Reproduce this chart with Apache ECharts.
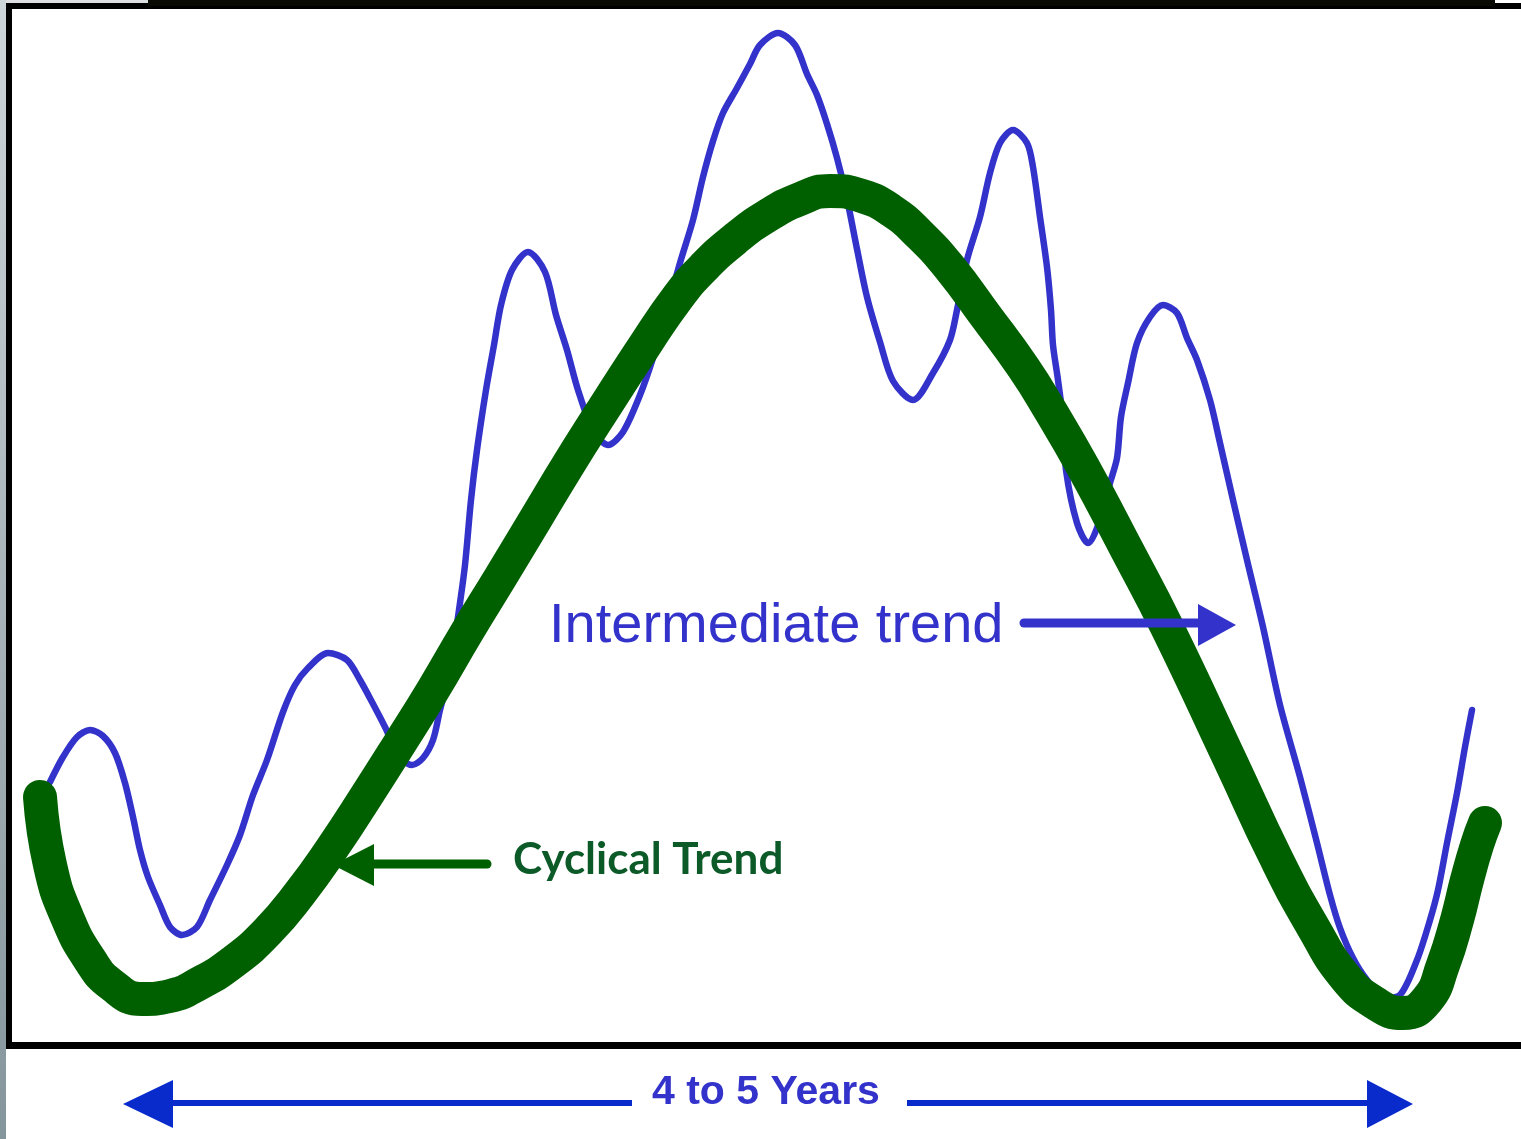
<!DOCTYPE html>
<html>
<head>
<meta charset="utf-8">
<title>Cyclical vs Intermediate trend</title>
<script src="https://cdn.jsdelivr.net/npm/echarts@6/dist/echarts.min.js"></script>
<style>
html, body { margin: 0; padding: 0; background: #fff; }
#chart { width: 1521px; height: 1139px; }
</style>
</head>
<body>
<div id="chart"></div>
<script>
// intermediate trend (blue, hand drawn) - time / level
var interTime = [41, 54, 68, 81, 94, 106, 116, 124, 131, 139, 151, 161, 173, 188, 201, 218, 231, 244, 258, 274, 286, 299, 319,
	338, 351, 363, 376, 391, 403, 414, 424, 431, 438, 444, 450, 456, 462, 468, 477, 485, 492, 503, 519,
	536, 547, 558, 569, 584, 599, 614, 631, 644, 658, 671, 684, 694, 704, 714, 728, 741, 751, 769,
	786, 798, 808, 818, 828, 838, 848, 858, 871, 884, 904, 924, 941, 948, 958, 971, 981, 991, 1004,
	1018, 1024, 1031, 1038, 1042, 1044, 1049, 1054, 1057, 1068, 1079, 1091, 1101, 1108, 1112, 1119, 1128, 1141, 1154,
	1168, 1178, 1188, 1201, 1211, 1224, 1238, 1254, 1271, 1291, 1308, 1321, 1331, 1344, 1358, 1376,
	1391, 1408, 1421, 1429, 1438, 1448, 1456, 1463];
var interLevel = [263, 288, 308, 315, 309, 292, 262, 228, 195, 168, 140, 118, 110, 118, 145, 180, 210, 250, 285, 333, 360, 377, 392,
	385, 365, 343, 318, 287, 280, 287, 305, 335, 362, 395, 435, 480, 545, 595, 655, 700, 740, 775, 793,
	773, 730, 695, 655, 615, 600, 613, 650, 687, 735, 782, 825, 868, 904, 932, 957, 981, 1000, 1012,
	1000, 971, 950, 921, 887, 846, 796, 748, 703, 664, 645, 672, 705, 735, 785, 828, 872, 902, 915,
	902, 878, 828, 778, 735, 700, 665, 625, 575, 522, 502, 525, 562, 587, 628, 662, 702, 728, 740,
	732, 707, 685, 645, 602, 545, 485, 418, 340, 268, 202, 150, 117, 87, 65, 47,
	50, 85, 125, 155, 202, 252, 298, 335];

// cyclical trend (thick green)
var cycTime = [31, 41, 58, 81, 103, 133, 161, 191, 224, 258, 291, 324, 358, 391, 424, 458, 491, 526, 561, 599, 636, 669, 694,
	726, 758, 791, 821, 853, 883, 911, 941, 976, 1014, 1041, 1074, 1118, 1158, 1221, 1268, 1304, 1336, 1366, 1394,
	1418, 1434, 1448, 1458, 1468, 1476];
var cycLevel = [248, 180, 128, 85, 60, 46, 49, 62, 83, 113, 152, 198, 250, 302, 355, 413, 467, 525, 583, 643, 700, 748, 777,
	806, 829, 846, 854, 849, 834, 810, 777, 730, 678, 635, 578, 495, 418, 285, 185, 118, 68, 42, 32,
	45, 80, 125, 165, 200, 222];

var labels = {
	inter : "Intermediate trend",
	cyc : "Cyclical Trend",
	span : "4 to 5 Years"
};

function zip(xs, ys) {
	var out = [];
	for (var i = 0; i < xs.length; i++) {
		out.push([ xs[i], ys[i] ]);
	}
	return out;
}

// no ticks, labels or grid lines - only the axis line is kept as frame
function frameAxis(opt) {
	return Object.assign({
		axisTick : { show : false },
		axisLabel : { show : false },
		splitLine : { show : false }
	}, opt);
}

var chart = echarts.init(document.getElementById("chart"));

var blue = "#3333cc", green = "#006000", arrowBlue = "#0a2bcc";

chart.setOption({
	animation : false,
	backgroundColor : "#fff",
	grid : {
		left : 9,
		right : 0,
		top : 6,
		bottom : 94
	},
	xAxis : [ frameAxis({
		type : 'value',
		min : 0,
		max : 1512,
		position : 'bottom',
		axisLine : { show : true, onZero : false, lineStyle : { color : "#000", width : 7, cap : 'square' } }
	}), frameAxis({
		type : 'value',
		min : 0,
		max : 1512,
		position : 'top',
		axisLine : { show : true, onZero : false, lineStyle : { color : "#000", width : 6, cap : 'square' } }
	}) ],
	yAxis : frameAxis({
		type : 'value',
		min : 0,
		max : 1039,
		axisLine : { show : true, onZero : false, lineStyle : { color : "#000", width : 6 } }
	}),
	series : [ {
		name : labels.inter,
		type : 'line',
		smooth : 0.3,
		showSymbol : false,
		z : 2,
		lineStyle : { color : blue, width : 6.5, cap : 'round', join : 'round' },
		data : zip(interTime, interLevel)
	}, {
		name : labels.cyc,
		type : 'line',
		smooth : 0.5,
		showSymbol : false,
		z : 3,
		lineStyle : { color : green, width : 34, cap : 'round', join : 'round' },
		data : zip(cycTime, cycLevel)
	} ],
	graphic : [
		// window edges around the picture
		{ type : 'rect', z : 20, shape : { x : 0, y : 0, width : 6, height : 1139 },
			style : { fill : new echarts.graphic.LinearGradient(0, 0, 0, 1, [ { offset : 0, color : '#cfd6d9' }, { offset : 1, color : '#85959c' } ]) } },
		{ type : 'rect', z : 20, shape : { x : 6, y : 0, width : 142, height : 3 }, style : { fill : '#dcdfe0' } },
		{ type : 'rect', z : 20, shape : { x : 148, y : 0, width : 1347, height : 6 }, style : { fill : '#0a0a05' } },

		// intermediate trend label + arrow
		{ type : 'text', z : 10, x : 549, y : 627,
			style : { text : labels.inter, fill : blue, fontSize : 56, fontFamily : 'Liberation Sans', verticalAlign : 'middle' } },
		{ type : 'line', z : 10, shape : { x1 : 1024, y1 : 623, x2 : 1205, y2 : 623 },
			style : { stroke : blue, lineWidth : 9, lineCap : 'round' } },
		{ type : 'polygon', z : 10, shape : { points : [ [ 1236, 625 ], [ 1198, 604 ], [ 1198, 646 ] ] }, style : { fill : blue } },

		// cyclical trend label + arrow
		{ type : 'text', z : 10, x : 513, y : 860,
			style : { text : labels.cyc, fill : '#0b5a28', fontSize : 44, fontWeight : 'bold', fontFamily : 'Lato', verticalAlign : 'middle' } },
		{ type : 'line', z : 10, shape : { x1 : 370, y1 : 864, x2 : 487, y2 : 864 },
			style : { stroke : green, lineWidth : 9, lineCap : 'round' } },
		{ type : 'polygon', z : 10, shape : { points : [ [ 333, 865 ], [ 374, 844 ], [ 374, 886 ] ] }, style : { fill : green } },

		// span arrow under the box
		{ type : 'line', z : 10, shape : { x1 : 170, y1 : 1103, x2 : 632, y2 : 1103 }, style : { stroke : arrowBlue, lineWidth : 6 } },
		{ type : 'line', z : 10, shape : { x1 : 907, y1 : 1103, x2 : 1370, y2 : 1103 }, style : { stroke : arrowBlue, lineWidth : 6 } },
		{ type : 'polygon', z : 10, shape : { points : [ [ 123, 1104 ], [ 173, 1080 ], [ 173, 1128 ] ] }, style : { fill : arrowBlue } },
		{ type : 'polygon', z : 10, shape : { points : [ [ 1413, 1104 ], [ 1367, 1080 ], [ 1367, 1128 ] ] }, style : { fill : arrowBlue } },
		{ type : 'text', z : 10, x : 652, y : 1093,
			style : { text : labels.span, fill : blue, fontSize : 41, fontWeight : 'bold', fontFamily : 'Liberation Sans', verticalAlign : 'middle' } }
	]
});

window.addEventListener("resize", function() {
	chart.resize();
});
</script>
</body>
</html>
